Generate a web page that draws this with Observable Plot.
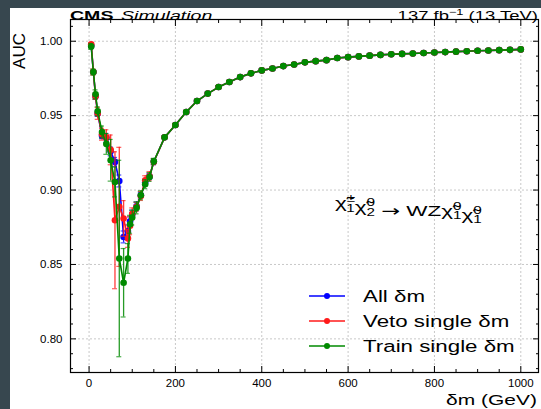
<!DOCTYPE html>
<html><head><meta charset="utf-8">
<script src="https://cdn.jsdelivr.net/npm/d3@7"></script>
<script src="https://cdn.jsdelivr.net/npm/@observablehq/plot@0.6"></script>
<style>
html,body{margin:0;padding:0;background:#37474f;width:541px;height:409px;overflow:hidden;}
#panel{position:absolute;left:10px;top:8px;width:531px;height:401px;background:#fff;}
</style></head><body><div id="panel"></div>
<script>
// ---- data ----
const dmLow = [5,10,15,20,30,40,50,60,70,80,90,95,100,110,120,130,140,150];
const allLow  = [0.9970,0.9793,0.9630,0.9515,0.9365,0.9350,0.9260,0.9189,0.9061,0.8685,0.8725,0.8790,0.8835,0.8890,0.8965,0.9050,0.9090,0.9190];
const allErr  = [0.001,0.001,0.002,0.002,0.002,0.003,0.003,0.003,0.004,0.004,0.004,0.003,0.003,0.003,0.002,0.002,0.002,0.002];
const vetoLow = [0.9980,0.9793,0.9630,0.9515,0.9375,0.9355,0.9270,0.8797,0.8887,0.8809,0.8675,0.8760,0.8840,0.8887,0.8960,0.9066,0.9093,0.9190];
const vetoErr = [0.001,0.002,0.002,0.004,0.004,0.005,0.010,0.046,0.040,0.012,0.006,0.006,0.004,0.003,0.003,0.003,0.003,0.002];
const trainLow = [0.9965,0.9793,0.9643,0.9529,0.9390,0.9310,0.9200,0.9054,0.8540,0.8377,0.8540,0.8770,0.8815,0.8880,0.8965,0.9039,0.9088,0.9193];
const trainErr = [0.002,0.002,0.003,0.003,0.004,0.007,0.014,0.010,0.066,0.023,0.010,0.006,0.005,0.004,0.003,0.003,0.003,0.002];
const dmHigh = [175,200,225,250,275,300,325,350,375,400,425,450,475,500,525,550,575,600,625,650,675,700,725,750,775,800,825,850,875,900,925,950,975,1000];
const aucHigh = [0.9354,0.9437,0.9524,0.9598,0.9648,0.9692,0.9726,0.9759,0.9784,0.9804,0.9817,0.9833,0.9844,0.9858,0.9866,0.9873,0.9887,0.9893,0.9898,0.9903,0.9908,0.9912,0.9915,0.9918,0.9921,0.9924,0.9927,0.9930,0.9933,0.9936,0.9938,0.9940,0.9942,0.9945];
const errHigh = dmHigh.map(() => 0.001);
const seriesNames = ["All δm","Veto single δm","Train single δm"];
const seriesColors = ["#0000ff","#ff1a1a","#008a00"];
const xMajor = [0,200,400,600,800,1000];
const xMinor = d3.range(0, 1041, 50).filter(v => v % 200 !== 0);
const yMajor = [0.80,0.85,0.90,0.95,1.00];
const yMinor = d3.range(78, 102, 1).map(v => v/100).filter(v => Math.round(v*100) % 5 !== 0);

// ---- build table ----
const vals = [allLow.concat(aucHigh), vetoLow.concat(aucHigh), trainLow.concat(aucHigh)];
const errs = [allErr.concat(errHigh), vetoErr.concat(errHigh), trainErr.concat(errHigh)];
const dmAll = dmLow.concat(dmHigh);
const tables = vals.map((v,k) => dmAll.map((d,i) => ({s: seriesNames[k], dm: d, auc: v[i], lo: v[i]-errs[k][i], hi: v[i]+errs[k][i]})));

const FONT = "'Liberation Sans', Arial, Helvetica, sans-serif";
const seriesMarks = tables.flatMap((t,k) => [
  Plot.ruleX(t, {x: "dm", y1: "lo", y2: "hi", stroke: seriesColors[k], strokeWidth: 1.3, strokeOpacity: 0.85}),
  Plot.ruleY(t, {y: "lo", x1: "dm", x2: "dm", insetLeft: -2.5, insetRight: -2.5, stroke: seriesColors[k], strokeWidth: 1.2, strokeOpacity: 0.7}),
  Plot.ruleY(t, {y: "hi", x1: "dm", x2: "dm", insetLeft: -2.5, insetRight: -2.5, stroke: seriesColors[k], strokeWidth: 1.2, strokeOpacity: 0.7}),
  Plot.line(t, {x: "dm", y: "auc", stroke: seriesColors[k], strokeWidth: 1.6}),
  Plot.dot(t, {x: "dm", y: "auc", fill: seriesColors[k], r: 3.3})
]);

const blank = () => "";
const chart = Plot.plot({
  width: 531, height: 401,
  marginLeft: 60, marginRight: 3, marginTop: 11, marginBottom: 37,
  style: {fontFamily: FONT, fontSize: "11.5px", color: "black", background: "white", overflow: "visible"},
  x: {domain: [-43, 1041]},
  y: {domain: [0.7774, 1.0146]},
  marks: [
    Plot.gridX(xMajor, {stroke: "#c8c8c8", strokeOpacity: 1, strokeDasharray: "2,2"}),
    Plot.gridY(yMajor, {stroke: "#c8c8c8", strokeOpacity: 1, strokeDasharray: "2,2"}),
    ...seriesMarks,
    Plot.frame({stroke: "black", strokeWidth: 1.2}),
    Plot.axisX(xMajor, {anchor: "bottom", tickSize: 0, tickPadding: 6, tickFormat: d => String(d), label: null}),
    Plot.axisX(xMajor, {anchor: "bottom", tickSize: -6, tickFormat: blank, label: null}),
    Plot.axisX(xMinor, {anchor: "bottom", tickSize: -3, tickFormat: blank, label: null}),
    Plot.axisX(xMajor, {anchor: "top", tickSize: -6, tickFormat: blank, label: null}),
    Plot.axisX(xMinor, {anchor: "top", tickSize: -3, tickFormat: blank, label: null}),
    Plot.axisY(yMajor, {anchor: "left", tickSize: 0, tickPadding: 8, tickFormat: d3.format(".2f"), label: null}),
    Plot.axisY(yMajor, {anchor: "left", tickSize: -6, tickFormat: blank, label: null}),
    Plot.axisY(yMinor, {anchor: "left", tickSize: -3, tickFormat: blank, label: null}),
    Plot.axisY(yMajor, {anchor: "right", tickSize: -6, tickFormat: blank, label: null}),
    Plot.axisY(yMinor, {anchor: "right", tickSize: -3, tickFormat: blank, label: null})
  ]
});
document.getElementById("panel").appendChild(chart);

const svg = d3.select(chart);
// stretch tick labels horizontally (reference text is wide)
svg.selectAll("text").each(function() {
  const el = d3.select(this);
  if (el.attr("transform") || !el.text()) return;
  const x = +el.attr("x") || 0, y = +el.attr("y") || 0;
  el.attr("x", null).attr("y", null).attr("transform", `translate(${x},${y}) scale(1.2,1)`);
});

function label(x, y, s, txt, opts = {}) {
  const g = svg.append("g").attr("transform", `translate(${x},${y}) scale(${s},1)`);
  const t = g.append("text").attr("font-family", FONT).attr("fill", "black")
    .attr("font-size", opts.size || 15).attr("text-anchor", opts.anchor || "start")
    .attr("font-weight", opts.weight || "normal").attr("font-style", opts.style || "normal");
  return t.text(txt);
}
// header
label(60, 11.5, 1.45, "CMS", {size: 13.5, weight: "bold"});
label(111, 11.5, 1.45, "Simulation", {size: 13.5, style: "italic"});
{
  const t = label(528, 11.5, 1.42, "", {size: 13, anchor: "end"});
  t.append("tspan").text("137 fb");
  t.append("tspan").attr("font-size", 9).attr("dy", -5).text("−1");
  t.append("tspan").attr("dy", 5).text(" (13 TeV)");
}
// axis titles
label(527, 397, 1.4, "δm (GeV)", {size: 15, anchor: "end"});
svg.append("text").attr("font-family", FONT).attr("font-size", 17).attr("text-anchor", "end")
  .attr("transform", "translate(15,25) rotate(-90)").text("AUC");

// legend
seriesNames.forEach((name, k) => {
  const cy = 288 + k * 25;
  svg.append("line").attr("x1", 299).attr("x2", 335).attr("y1", cy).attr("y2", cy)
    .attr("stroke", seriesColors[k]).attr("stroke-width", 1.6);
  svg.append("circle").attr("cx", 317).attr("cy", cy).attr("r", 3).attr("fill", seriesColors[k]);
  label(353, cy + 6, 1.37, name, {size: 16.3});
});

// process annotation: one text element, stacked super/subscripts via dx
{
  const big = 15.5, small = 10.5;
  const t = label(325, 199.5, 1.45, "", {size: big});
  const chi = () => t.append("tspan").attr("font-size", big).text("χ\u0303");
  const stack = (sup, sub, w) => {
    t.append("tspan").attr("font-size", small).attr("dy", -6).text(sup);
    t.append("tspan").attr("font-size", small).attr("dx", -w).attr("dy", 10).text(sub);
    t.append("tspan").attr("font-size", big).attr("dy", -4).attr("dx", w - 0.556 * small + 2).text("");
  };
  chi(); stack("±", "1", 0.584 * small);
  chi(); stack("0", "2", 0.556 * small);
  t.append("tspan").attr("font-size", big).text(" ");
  t.append("tspan").attr("font-size", big).attr("font-family", "'DejaVu Sans', sans-serif").text("→");
  t.append("tspan").attr("font-size", big).text(" WZ");
  chi(); stack("0", "1", 0.556 * small);
  chi(); stack("0", "1", 0.556 * small);
}
</script>
</body></html>
